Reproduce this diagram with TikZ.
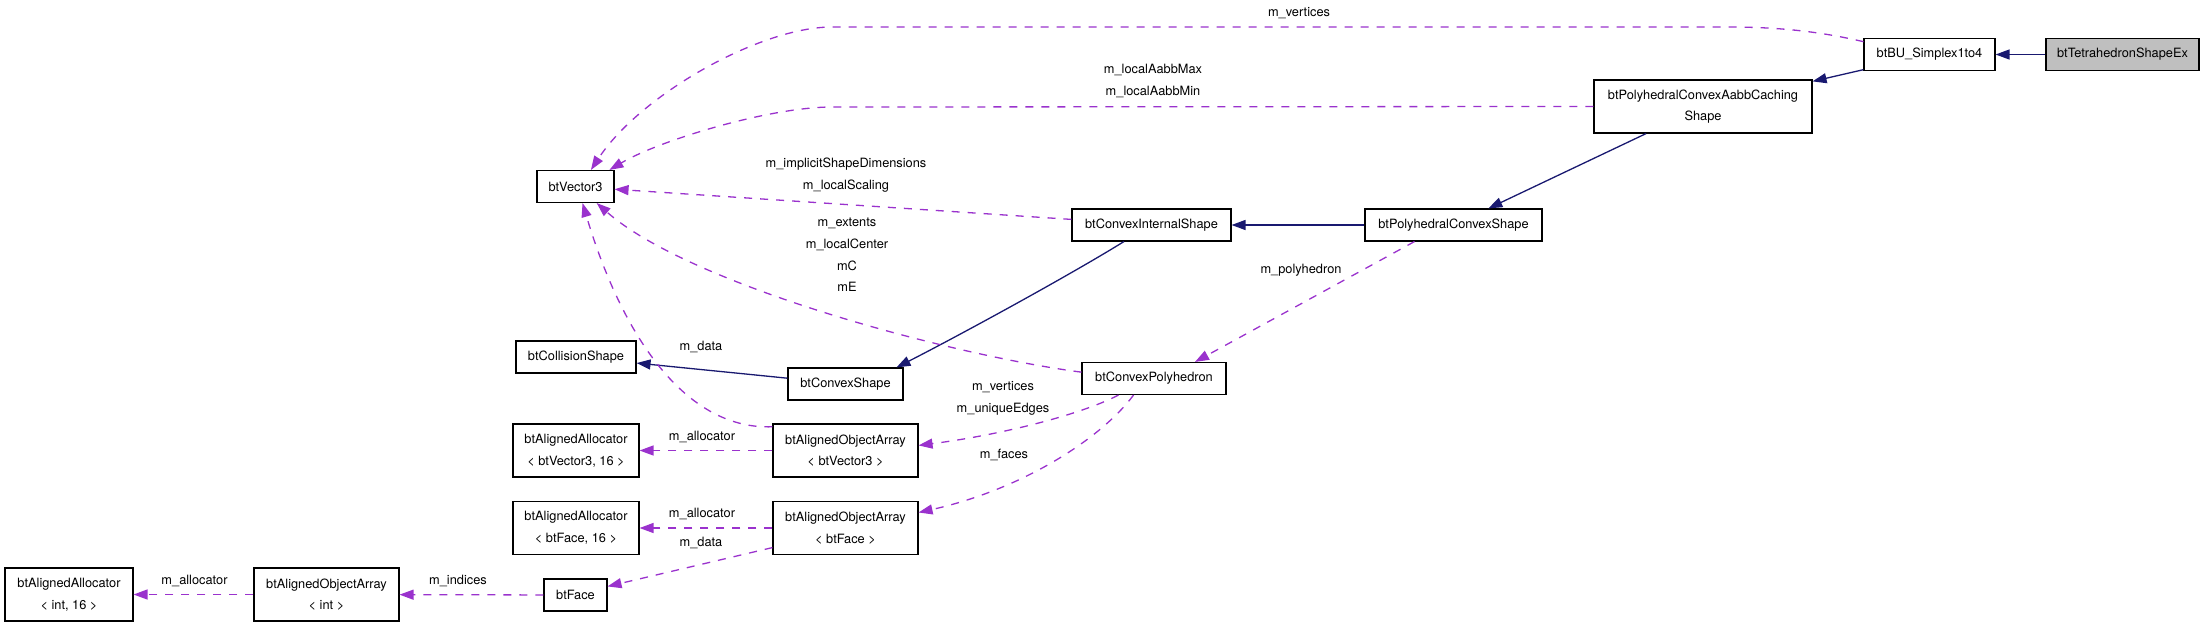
\documentclass[tikz,border=0pt]{standalone}
\usepackage{fontspec}
\setmainfont{TeX Gyre Heros}
\usetikzlibrary{arrows.meta}
\definecolor{navy}{HTML}{191970}
\definecolor{orchid}{HTML}{9A32CD}
\begin{document}
\begin{tikzpicture}[x=1pt,y=1pt,>={Triangle[length=14pt,width=10pt]},
  cls/.style={draw=black,line width=1.1pt,fill=white,inner sep=0pt,minimum height=32,align=center,font=\fontsize{12.8}{21.6}\selectfont},
  lbl/.style={inner sep=0pt,align=center,font=\fontsize{12.8}{21.6}\selectfont},
  inh/.style={draw=navy,line width=1.3pt,->},
  mem/.style={draw=orchid,line width=1.3pt,dash pattern=on 8pt off 8pt,->}]
\useasboundingbox (0,0) rectangle (2203,-627);

% classes
\node[cls,fill=gray!50,minimum width=153] at (2122.5,-54.5) (tetra) {btTetrahedronShapeEx};
\node[cls,minimum width=131] at (1929.5,-54.5) (simplex) {btBU\_Simplex1to4};
\node[cls,minimum width=218,minimum height=53] at (1703,-106.5) (aabb) {btPolyhedralConvexAabbCaching\\Shape};
\node[cls,minimum width=177] at (1453.5,-225) (polyconvex) {btPolyhedralConvexShape};
\node[cls,minimum width=159] at (1151.5,-225) (convexinternal) {btConvexInternalShape};
\node[cls,minimum width=77] at (575.5,-186.5) (vector3) {btVector3};
\node[cls,minimum width=144] at (1154,-378.5) (convexpoly) {btConvexPolyhedron};
\node[cls,minimum width=115] at (845.5,-384) (convexshape) {btConvexShape};
\node[cls,minimum width=120] at (576,-357) (collision) {btCollisionShape};
\node[cls,minimum width=145,minimum height=53] at (845.5,-450.5) (arrV3) {btAlignedObjectArray\\< btVector3 >};
\node[cls,minimum width=126,minimum height=53] at (576,-450.5) (allocV3) {btAlignedAllocator\\< btVector3, 16 >};
\node[cls,minimum width=126,minimum height=53] at (576,-528) (allocFace) {btAlignedAllocator\\< btFace, 16 >};
\node[cls,minimum width=145,minimum height=53] at (845.5,-528) (arrFace) {btAlignedObjectArray\\< btFace >};
\node[cls,minimum width=63] at (575.5,-595) (face) {btFace};
\node[cls,minimum width=145,minimum height=53] at (326.5,-594.5) (arrInt) {btAlignedObjectArray\\< int >};
\node[cls,minimum width=128,minimum height=53] at (69,-594.5) (allocInt) {btAlignedAllocator\\< int, 16 >};

% inheritance
\draw[inh] (tetra) -- (simplex);
\draw[inh] (simplex) -- (aabb);
\draw[inh] (aabb) -- (polyconvex);
\draw[inh] (polyconvex) -- (convexinternal);
\draw[inh] (convexinternal.211) .. controls (1070,-275) and (960,-335) .. (convexshape.18);
\draw[inh] (convexshape) -- (collision);

% members
\draw[mem] (simplex.169) .. controls (1830,-34) and (1790,-27) .. (1728,-27) -- (832,-27) .. controls (760,-27) and (640,-95) .. (vector3.47);
\draw[mem] (aabb.west) -- (832,-107) .. controls (770,-107) and (660,-140) .. (vector3.26);
\draw[mem] (convexinternal.176) -- (vector3.-4);
\draw[mem] (convexpoly.175) .. controls (950,-355) and (690,-285) .. (vector3.-38);
\draw[mem] (arrV3.162) .. controls (690,-430) and (625,-345) .. (vector3.-67);
\draw[mem] (convexpoly.205) .. controls (1080,-415) and (1000,-435) .. (arrV3.4);
\draw[mem] (convexpoly.219) .. controls (1100,-440) and (1020,-490) .. (arrFace.12);
\draw[mem] (polyconvex.203) -- (convexpoly.22);
\draw[mem] (arrV3) -- (allocV3);
\draw[mem] (arrFace) -- (allocFace);
\draw[mem] (arrFace.195) -- (face.15);
\draw[mem] (face) -- (arrInt);
\draw[mem] (arrInt) -- (allocInt);

% member names
\node[lbl] at (1299,-12.7) (lVerts) {m\_vertices};
\node[lbl] at (1153,-81) (lAabb) {m\_localAabbMax\\m\_localAabbMin};
\node[lbl] at (846,-175) (lScale) {m\_implicitShapeDimensions\\m\_localScaling};
\node[lbl] at (847,-255) (lExt) {m\_extents\\m\_localCenter\\mC\\mE};
\node[lbl] at (701,-347) (lData) {m\_data};
\node[lbl] at (1003,-398.5) (lEdges) {m\_vertices\\m\_uniqueEdges};
\node[lbl] at (1004,-455) (lFaces) {m\_faces};
\node[lbl] at (1301,-270) (lPoly) {m\_polyhedron};
\node[lbl] at (702,-437) (lAllocA) {m\_allocator};
\node[lbl] at (702,-514) (lAllocB) {m\_allocator};
\node[lbl] at (701,-543) (lDataB) {m\_data};
\node[lbl] at (458,-581) (lIdx) {m\_indices};
\node[lbl] at (194.5,-581) (lAllocC) {m\_allocator};
\end{tikzpicture}
\end{document}
